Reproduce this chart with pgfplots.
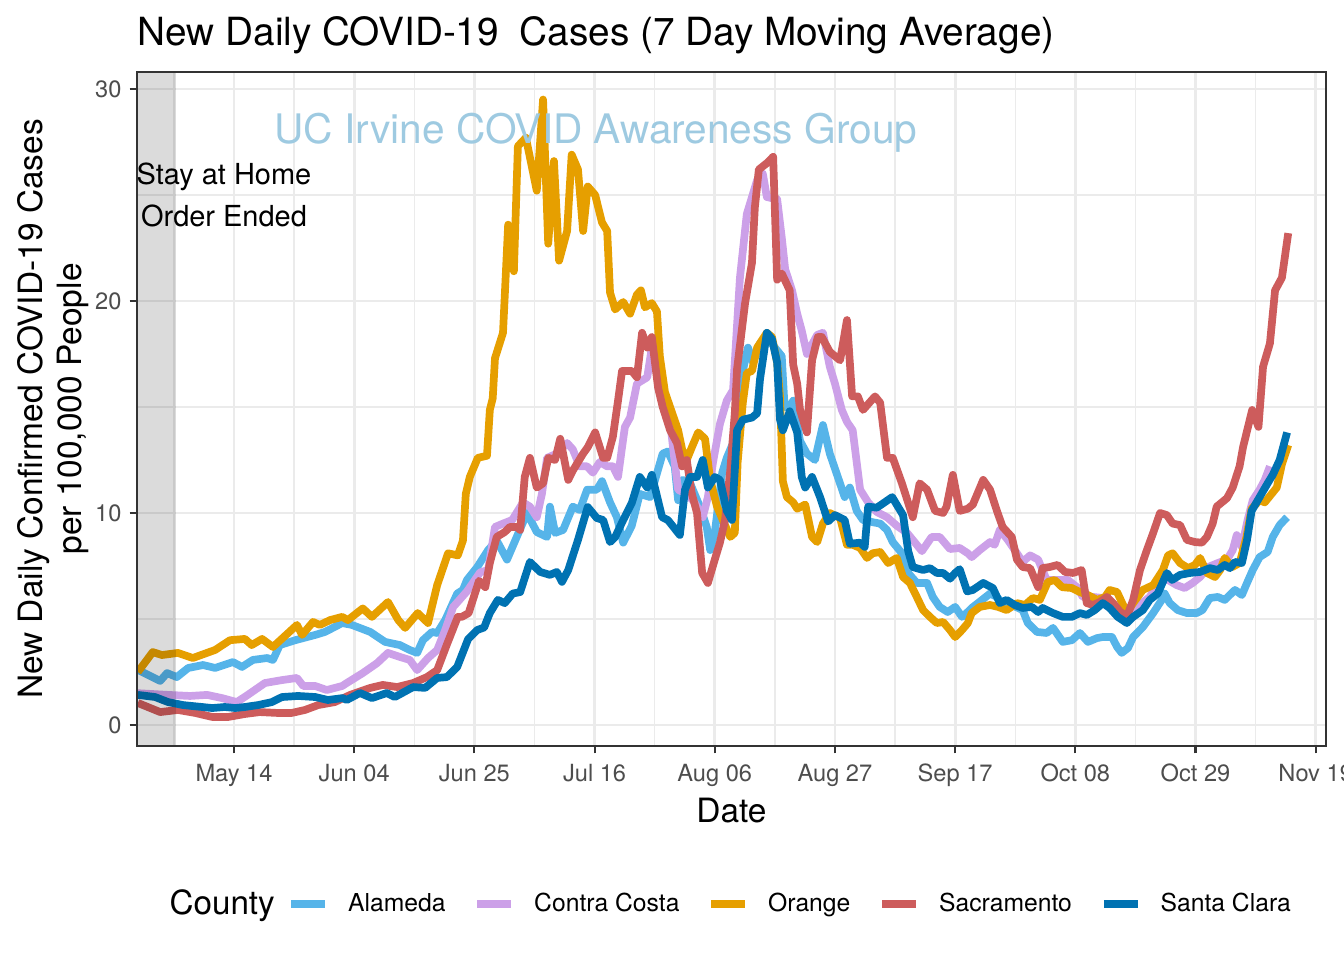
\documentclass[border=0pt]{standalone}
\usepackage{fontspec}
\setmainfont{TeX Gyre Heros}
\usepackage{pgfplots}
\pgfplotsset{compat=1.18}
\definecolor{cAla}{RGB}{86,180,233}
\definecolor{cCC}{RGB}{204,160,232}
\definecolor{cOra}{RGB}{230,159,0}
\definecolor{cSac}{RGB}{205,92,92}
\definecolor{cSC}{RGB}{0,114,178}
\definecolor{gridc}{RGB}{235,235,235}
\definecolor{grey20}{RGB}{51,51,51}
\definecolor{grey30}{RGB}{77,77,77}
\definecolor{wm}{RGB}{158,202,225}
\begin{document}
\begin{tikzpicture}
\useasboundingbox (0,0) rectangle (504bp,360bp);
\begin{axis}[
  at={(51.375bp,80.25bp)}, anchor=south west,
  scale only axis, width=445.875bp, height=252.75bp,
  xmin=-16.95, xmax=190.8, ymin=-0.99, ymax=30.8,
  xtick={0,21,42,63,84,105,126,147,168,189},
  xticklabels={May 14,Jun 04,Jun 25,Jul 16,Aug 06,Aug 27,Sep 17,Oct 08,Oct 29,Nov 19},
  minor xtick={-10.5,10.5,31.5,52.5,73.5,94.5,115.5,136.5,157.5,178.5},
  ytick={0,10,20,30}, minor ytick={5,15,25},
  grid=both,
  major grid style={gridc, line width=1.07pt},
  minor grid style={gridc, line width=0.53pt},
  axis line style={draw=none},
  tick align=outside, major tick length=2.75pt, minor tick length=0pt,
  tick style={grey20, line width=0.8pt},
  xtick pos=lower, ytick pos=left,
  /pgf/number format/assume math mode=true,
  xticklabel style={font=\fontsize{8.9}{10}\selectfont, text=grey30, anchor=base, inner sep=0pt, yshift=-10.7pt},
  yticklabel style={font=\fontsize{8.9}{10}\selectfont, text=grey30, anchor=east, inner sep=0pt, xshift=-2.9pt},
  clip mode=individual,
  legend columns=5,
  legend style={at={(axis description cs:0.1261,-0.2344)}, anchor=west, draw=none, fill=none,
    font=\fontsize{9.3}{11}\selectfont, inner sep=0pt, nodes={inner sep=0pt},
    /tikz/every odd column/.append style={column sep=7.1bp},
    /tikz/every even column/.append style={column sep=10.5bp}},
  legend image code/.code={\draw[#1, line width=2.9pt] (0bp,0bp) -- (12.75bp,0bp);},
  every axis plot/.append style={line width=2.9pt, line join=round, no markers},
]
\addplot[cAla] coordinates {
(-16.8,2.6) (-12.9,2.08) (-11.7,2.45) (-10.0,2.26) (-8.0,2.69) (-5.4,2.83) (-3.3,2.69) (-0.2,2.97) (1.4,2.74) (3.3,3.07) (5.8,3.16) (6.8,3.07) (8.0,3.77) (10.7,4.0) (14.2,4.25) (15.9,4.39) (18.9,4.81) (20.6,4.72) (23.8,4.39) (26.4,3.92) (29.0,3.77) (30.7,3.54) (32.0,3.4) (33.0,4.0) (34.6,4.39) (35.5,4.34) (36.9,4.95) (39.0,6.2) (40.0,6.37) (40.7,6.84) (42.5,7.45) (44.4,8.25) (45.9,8.7) (47.7,7.8) (49.4,8.87) (51.2,10.0) (52.9,9.1) (54.7,8.87) (55.2,10.3) (56.1,9.06) (57.5,9.2) (59.2,10.3) (60.4,10.14) (61.7,11.1) (63.4,11.1) (64.3,11.5) (65.7,10.5) (66.9,9.8) (68.0,8.6) (69.5,9.4) (70.9,10.9) (72.7,10.75) (74.9,12.8) (75.8,12.9) (77.0,12.2) (77.6,10.6) (78.4,11.56) (79.7,11.4) (81.4,10.3) (82.6,9.34) (83.2,8.25) (84.0,9.06) (85.3,11.9) (86.1,12.6) (87.2,13.3) (88.9,16.7) (89.8,17.8) (90.7,17.1) (91.9,18.0) (93.1,18.3) (94.5,17.8) (95.7,17.4) (96.2,15.0) (97.1,15.0) (97.7,15.3) (98.9,13.4) (100.1,12.8) (101.5,12.5) (102.9,14.15) (104.1,12.8) (105.5,11.7) (106.7,10.75) (107.6,11.2) (108.8,10.1) (109.9,9.67) (111.5,9.57) (112.9,9.5) (114.1,9.2) (115.1,8.63) (116.7,8.1) (117.8,7.17) (119.3,6.7) (121.1,6.7) (122.1,6.04) (123.3,5.57) (124.7,5.33) (126.0,5.57) (127.2,5.1) (128.2,5.33) (128.9,5.52) (130.7,5.9) (132.1,6.2) (133.3,6.04) (134.2,5.75) (135.9,5.66) (137.8,5.42) (138.7,4.81) (140.3,4.39) (142.0,4.34) (143.1,4.58) (144.8,3.92) (146.4,4.0) (147.8,4.34) (149.2,3.92) (150.8,4.1) (151.8,4.15) (153.4,4.15) (154.3,3.68) (155.1,3.4) (156.2,3.63) (157.1,4.15) (158.8,4.62) (160.6,5.28) (162.1,5.9) (162.6,6.2) (163.5,5.75) (164.9,5.42) (166.5,5.28) (168.2,5.28) (169.2,5.42) (170.5,5.99) (171.9,6.04) (173.1,5.9) (174.9,6.37) (176.1,6.13) (177.0,6.7) (178.0,7.31) (179.2,7.92) (180.6,8.16) (181.5,8.87) (182.7,9.43) (184.0,9.8)
};
\addlegendentry{Alameda}
\addplot[cCC] coordinates {
(-16.8,1.5) (-11.5,1.42) (-7.7,1.37) (-4.7,1.42) (-2.1,1.27) (0.5,1.08) (2.4,1.42) (5.4,1.98) (8.4,2.12) (11.0,2.22) (12.1,1.84) (14.2,1.84) (16.2,1.65) (18.9,1.84) (19.7,1.98) (22.5,2.45) (25.0,2.92) (26.9,3.4) (29.0,3.21) (30.7,3.07) (32.0,2.59) (33.9,3.16) (35.5,3.54) (36.9,4.48) (38.3,5.57) (40.7,6.3) (43.0,7.2) (44.4,7.31) (45.6,9.34) (47.0,9.5) (48.6,9.67) (50.5,10.5) (51.7,10.3) (52.9,9.8) (53.8,10.9) (54.7,12.6) (56.4,12.8) (58.2,13.3) (59.2,13.0) (60.4,12.2) (61.7,12.2) (62.7,11.9) (63.9,12.4) (65.2,12.2) (66.2,12.2) (67.1,11.7) (67.8,13.1) (68.3,14.06) (69.2,14.5) (70.4,16.1) (72.2,16.4) (73.0,17.8) (74.4,15.8) (76.2,14.3) (77.0,12.4) (77.6,11.1) (79.1,10.9) (80.5,10.5) (81.9,9.8) (82.8,10.75) (83.7,12.4) (84.9,14.2) (86.1,15.3) (87.2,15.8) (88.4,21.1) (89.6,24.1) (91.4,25.7) (92.4,26.0) (93.1,24.9) (94.9,24.8) (95.7,23.0) (96.3,21.5) (97.5,20.5) (98.4,19.4) (99.2,18.6) (100.1,17.5) (101.9,18.4) (102.9,18.5) (104.1,16.9) (105.0,16.1) (106.2,14.86) (107.1,14.3) (108.1,13.9) (109.4,11.1) (110.8,10.5) (112.3,10.05) (114.1,9.8) (115.8,9.4) (117.6,9.06) (119.0,8.6) (120.2,8.2) (121.9,8.87) (123.3,8.87) (125.1,8.3) (126.8,8.35) (128.2,8.1) (128.9,7.92) (130.3,8.25) (132.1,8.63) (132.9,8.5) (133.8,9.2) (135.2,8.73) (136.8,8.1) (137.8,7.69) (139.1,8.0) (140.5,7.8) (142.0,6.84) (144.3,6.84) (145.7,6.84) (147.3,6.5) (148.3,6.04) (150.1,6.04) (151.8,5.99) (153.0,5.75) (154.8,5.28) (156.0,5.1) (157.8,5.57) (160.0,6.04) (161.8,6.84) (163.2,6.84) (164.7,6.6) (166.1,6.46) (167.5,6.7) (168.8,6.98) (170.2,7.45) (171.9,7.64) (173.5,7.8) (174.5,8.25) (175.2,8.96) (176.1,8.4) (177.1,9.67) (178.0,10.6) (179.2,11.1) (180.1,11.56) (181.0,12.2)
};
\addlegendentry{Contra Costa}
\addplot[cOra] coordinates {
(-16.8,2.5) (-14.2,3.44) (-12.6,3.3) (-9.8,3.4) (-7.2,3.16) (-3.3,3.54) (-0.7,4.0) (1.9,4.06) (3.1,3.77) (4.9,4.06) (6.8,3.68) (11.0,4.72) (11.9,4.25) (13.8,4.86) (15.0,4.72) (16.8,4.95) (18.9,5.1) (19.9,4.95) (22.5,5.5) (24.1,5.1) (26.9,5.8) (28.7,4.95) (29.9,4.58) (32.1,5.28) (33.9,4.81) (35.5,6.6) (37.4,8.1) (39.1,8.0) (40.0,8.7) (40.5,10.9) (41.2,11.7) (42.6,12.6) (44.2,12.7) (44.7,14.86) (45.2,15.4) (45.6,17.3) (47.0,18.5) (47.9,23.6) (48.9,21.4) (49.6,27.3) (51.0,27.7) (52.9,25.2) (54.0,29.5) (54.9,22.7) (55.9,26.6) (56.8,21.9) (58.2,23.3) (59.0,26.9) (60.1,26.2) (61.0,23.3) (61.8,25.4) (63.1,25.0) (64.3,23.7) (65.2,23.3) (65.7,20.4) (66.6,19.6) (68.0,19.95) (69.2,19.4) (70.4,20.3) (71.1,20.5) (71.8,19.7) (73.0,19.9) (73.9,19.5) (74.4,17.4) (75.3,15.7) (76.7,14.6) (77.6,13.9) (78.3,13.0) (79.1,12.5) (80.0,13.1) (81.1,13.8) (82.3,13.5) (83.2,11.56) (84.4,10.3) (85.4,9.67) (86.7,8.87) (87.5,9.06) (88.0,12.4) (88.9,15.2) (89.6,16.6) (90.5,16.7) (91.4,17.8) (93.1,18.5) (94.0,18.3) (94.9,17.1) (95.4,15.5) (95.9,11.5) (96.6,10.75) (97.7,10.5) (98.4,10.2) (99.8,10.4) (101.0,8.87) (101.9,8.63) (102.9,9.5) (104.1,10.0) (105.9,9.76) (107.1,8.5) (108.1,8.5) (109.4,8.35) (110.6,7.88) (111.6,8.1) (112.9,8.16) (114.3,7.64) (115.8,7.88) (116.9,6.98) (118.1,6.7) (119.3,6.04) (120.4,5.42) (121.6,5.1) (122.8,4.81) (123.9,4.86) (125.1,4.48) (126.0,4.15) (127.2,4.48) (128.2,4.8) (128.9,5.28) (130.3,5.57) (132.1,5.66) (133.5,5.57) (135.0,5.42) (136.8,5.75) (138.2,5.66) (139.6,5.99) (140.8,5.9) (142.2,6.75) (143.4,6.84) (144.7,6.5) (146.4,6.46) (147.8,6.27) (149.2,6.13) (150.8,5.9) (152.2,6.04) (153.0,6.37) (154.3,6.27) (156.0,5.28) (157.1,5.75) (158.8,6.37) (160.6,6.6) (162.3,7.31) (163.2,8.0) (164.0,8.1) (165.3,7.64) (166.7,7.4) (167.9,7.55) (168.8,7.88) (170.0,7.17) (171.4,6.98) (172.3,7.31) (173.1,7.88) (174.4,7.45) (175.7,7.64) (176.9,8.87) (177.8,10.2) (179.2,10.6) (180.1,10.5) (181.3,10.9) (182.2,11.2) (183.1,12.3) (184.2,13.2)
};
\addlegendentry{Orange}
\addplot[cSac] coordinates {
(-16.8,1.04) (-12.9,0.61) (-9.8,0.71) (-6.8,0.57) (-3.8,0.38) (-1.0,0.38) (1.9,0.52) (4.5,0.61) (7.5,0.57) (10.1,0.57) (12.4,0.71) (14.7,0.94) (17.6,1.08) (20.3,1.42) (23.8,1.75) (26.0,1.89) (28.5,1.79) (31.3,1.98) (33.7,2.26) (35.5,2.59) (37.2,3.8) (39.1,5.1) (39.8,5.1) (41.0,5.28) (42.8,6.8) (43.9,6.5) (44.7,7.64) (45.9,8.87) (47.3,9.1) (48.2,9.34) (49.4,9.34) (50.0,9.2) (50.8,11.7) (51.7,12.6) (52.9,11.2) (54.0,11.4) (54.9,12.6) (56.1,12.5) (57.0,13.5) (58.4,11.56) (59.2,12.0) (61.0,12.8) (61.8,13.1) (63.1,13.8) (64.5,12.6) (65.2,12.6) (66.2,13.6) (67.1,15.3) (67.8,16.7) (69.5,16.7) (70.4,16.4) (71.3,18.5) (72.2,17.8) (73.0,18.3) (74.1,15.9) (74.9,15.0) (76.2,13.9) (77.4,13.3) (78.3,12.2) (79.1,12.5) (80.0,10.9) (80.9,10.0) (81.8,7.17) (82.8,6.7) (84.0,7.8) (84.9,8.6) (85.8,9.67) (86.7,12.0) (87.5,14.7) (87.9,16.8) (89.3,19.9) (90.5,21.8) (91.0,24.4) (91.7,26.2) (93.1,26.5) (94.2,26.8) (94.9,21.0) (95.7,21.3) (97.1,20.5) (97.7,17.0) (98.4,16.1) (98.9,14.86) (100.1,13.8) (101.0,17.2) (102.0,18.3) (102.7,18.3) (104.1,17.6) (105.9,17.2) (107.1,19.1) (108.0,15.5) (109.0,15.5) (109.9,14.86) (112.0,15.5) (112.9,15.2) (114.1,12.6) (115.1,12.6) (116.7,11.4) (118.6,9.8) (119.8,11.4) (121.1,11.1) (122.5,10.1) (123.9,10.0) (124.5,10.3) (125.6,11.8) (126.8,10.1) (128.2,10.2) (129.1,10.4) (130.9,11.56) (132.1,11.1) (133.3,10.1) (134.3,9.34) (135.9,8.87) (136.8,7.8) (137.8,7.45) (139.1,7.4) (140.5,6.5) (141.3,7.4) (142.5,7.45) (143.9,7.55) (145.2,7.22) (146.6,7.17) (148.1,7.31) (149.0,5.75) (150.1,5.66) (151.3,5.8) (152.5,6.04) (153.6,5.75) (154.8,5.35) (156.0,5.1) (157.1,5.9) (158.3,7.31) (159.5,8.25) (160.6,9.06) (161.8,10.0) (163.0,9.9) (164.0,9.5) (165.3,9.43) (166.5,8.73) (167.9,8.63) (169.1,8.6) (170.0,8.87) (171.0,9.5) (171.7,10.3) (173.5,10.7) (174.5,11.2) (175.7,12.2) (176.3,13.1) (177.9,14.86) (179.0,14.06) (179.8,16.9) (181.0,18.0) (181.9,20.5) (183.1,21.1) (184.2,23.2)
};
\addlegendentry{Sacramento}
\addplot[cSC] coordinates {
(-16.8,1.42) (-13.8,1.32) (-11.5,1.08) (-8.9,0.94) (-5.6,0.85) (-3.8,0.80) (-1.6,0.85) (0.2,0.80) (1.9,0.85) (4.2,0.94) (6.6,1.08) (8.4,1.32) (11.2,1.37) (14.2,1.32) (16.4,1.18) (19.0,1.27) (19.7,1.18) (22.0,1.51) (24.1,1.27) (26.7,1.51) (28.1,1.32) (31.3,1.79) (33.4,1.75) (35.5,2.22) (37.2,2.26) (39.0,2.74) (40.9,4.05) (42.5,4.48) (43.7,4.6) (44.7,5.28) (46.1,5.9) (47.3,5.75) (48.7,6.2) (50.0,6.27) (51.7,7.69) (53.5,7.22) (55.2,7.08) (56.4,7.22) (57.3,6.75) (58.4,7.31) (60.1,8.73) (61.8,10.28) (63.4,9.76) (64.5,9.67) (65.7,8.63) (66.6,8.87) (68.0,9.67) (69.5,10.47) (70.9,11.7) (72.2,11.2) (73.0,11.8) (74.8,9.8) (75.8,9.67) (77.9,8.96) (78.8,11.1) (79.7,11.7) (80.9,11.7) (81.9,12.5) (82.8,11.2) (84.0,11.7) (84.9,11.56) (86.1,10.1) (87.0,9.67) (87.9,13.9) (88.9,14.4) (90.5,14.5) (91.4,14.7) (91.9,16.3) (93.1,18.5) (94.0,18.2) (94.9,17.1) (95.4,14.4) (95.9,13.9) (97.1,14.8) (98.4,13.8) (99.2,11.7) (99.8,11.2) (101.0,11.7) (102.4,10.75) (103.8,9.6) (105.0,9.9) (106.7,9.67) (107.6,8.55) (109.4,8.6) (110.2,8.4) (110.8,10.3) (112.3,10.25) (113.4,10.45) (115.0,10.75) (116.0,10.3) (116.9,9.9) (117.8,8.2) (118.6,7.45) (120.4,7.31) (121.6,7.4) (122.8,7.17) (123.9,7.17) (125.1,6.9) (126.0,7.17) (126.8,7.35) (128.1,6.3) (129.1,6.37) (130.9,6.7) (132.6,6.46) (133.8,5.75) (135.0,5.9) (136.4,5.66) (137.8,5.52) (139.4,5.57) (140.5,5.33) (141.3,5.52) (143.1,5.28) (144.8,5.1) (146.4,5.1) (147.8,5.28) (149.0,5.19) (150.4,5.42) (151.8,5.75) (153.0,5.52) (154.4,5.1) (156.0,4.81) (157.1,5.1) (158.8,5.42) (160.0,5.9) (161.4,6.2) (163.0,7.17) (163.9,6.84) (165.3,7.08) (167.0,7.17) (168.8,7.22) (170.5,7.4) (171.9,7.31) (173.1,7.55) (174.0,7.4) (174.9,7.69) (176.1,7.64) (177.0,8.73) (177.8,10.1) (179.2,10.75) (180.6,11.4) (181.5,11.8) (182.7,12.5) (184.0,13.8)
};
\addlegendentry{Santa Clara}
% shaded period: stay-at-home order
\addplot[draw=none, fill=black, fill opacity=0.14, forget plot, line width=0pt] coordinates {(-17.5,-2) (-10.2,-2) (-10.2,32) (-17.5,32)} -- cycle;
% panel border on top
\draw[grey20, line width=0.8pt] (rel axis cs:0,0) rectangle (rel axis cs:1,1);
% annotations
\node[anchor=base, text=wm, font=\fontsize{15.3}{18}\selectfont] at (axis cs:63.2,27.43) {UC Irvine COVID Awareness Group};
\node[anchor=base, font=\fontsize{10.9}{13}\selectfont, inner sep=0pt] at (axis cs:-1.75,25.47) {Stay at Home};
\node[anchor=base, font=\fontsize{10.9}{13}\selectfont, inner sep=0pt] at (axis cs:-1.75,23.5) {Order Ended};
% titles
\node[anchor=base west, inner sep=0pt, font=\fontsize{14.6}{17}\selectfont] at (axis description cs:0,1.040) {New Daily COVID-19\hspace{0.25em} Cases (7 Day Moving Average)};
\node[anchor=base, inner sep=0pt, font=\fontsize{12.6}{15}\selectfont] at (axis description cs:0.5,-0.1128) {Date};
\node[anchor=base, rotate=90, inner sep=0pt, font=\fontsize{12.6}{15}\selectfont] at (axis description cs:-0.0791,0.5) {New Daily Confirmed COVID-19 Cases};
\node[anchor=base, rotate=90, inner sep=0pt, font=\fontsize{12.6}{15}\selectfont] at (axis description cs:-0.0463,0.5) {per 100,000 People};
\node[anchor=base west, inner sep=0pt, font=\fontsize{12.5}{15}\selectfont] at (axis description cs:0.027,-0.2493) {County};
\end{axis}
\end{tikzpicture}
\end{document}
